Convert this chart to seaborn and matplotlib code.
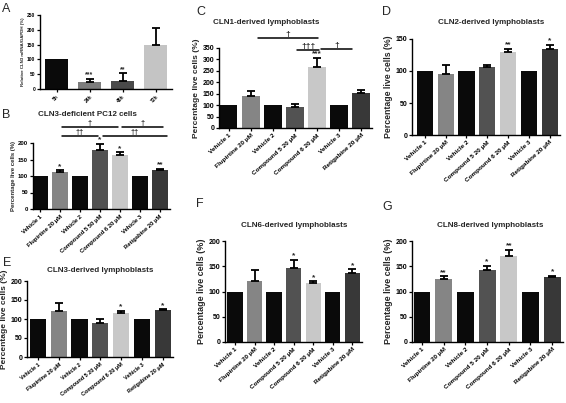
import matplotlib
matplotlib.use("Agg")
import matplotlib.pyplot as plt
import seaborn as sns
import pandas as pd
import numpy as np

sns.set_theme(style="ticks")
plt.rcParams['font.family'] = ['Liberation Sans', 'DejaVu Sans']

W, H = 566, 403

# ---------------- data ----------------
time_labels = ["5h", "24h", "48h", "72h"]
a_vals = [100, 25, 28, 148]
a_err = [0, 10, 25, 57]
a_sig = ["", "***", "**", ""]

cats = ["Vehicle 1", "Flupirtine 20 μM", "Vehicle 2", "Compound 5 20 μM",
        "Compound 6 20 μM", "Vehicle 3", "Retigabine 20 μM"]
cats_b = ["Vehicle 1", "Flupirtine 20 μM", "Vehicle 2", "Compound 5 50 μM",
          "Compound 6 20 μM", "Vehicle 3", "Retigabine 20 μM"]

b_vals = [100, 113, 100, 180, 163, 100, 118]
b_err = [0, 4, 0, 18, 9, 0, 4]
b_sig = ["", "*", "", "*", "*", "", "**"]

c_vals = [100, 140, 100, 93, 268, 100, 155]
c_err = [0, 23, 0, 12, 40, 0, 10]
c_sig = ["", "", "", "", "***", "", ""]

d_vals = [100, 95, 100, 107, 130, 100, 134]
d_err = [0, 15, 0, 3, 5, 0, 7]
d_sig = ["", "", "", "", "**", "", "*"]

e_vals = [100, 122, 100, 90, 115, 100, 123]
e_err = [0, 21, 0, 9, 6, 0, 3]
e_sig = ["", "", "", "", "*", "", "*"]

f_vals = [100, 120, 100, 147, 117, 100, 137]
f_err = [0, 23, 0, 16, 3, 0, 7]
f_sig = ["", "", "", "*", "*", "", "*"]

g_vals = [100, 125, 100, 142, 171, 100, 128]
g_err = [0, 5, 0, 9, 12, 0, 3]
g_sig = ["", "**", "", "*", "**", "", "*"]

# significance brackets: (x_start, x_end, y, label)
b_brackets = [(1.1, 3.9, 248, "†"), (4.1, 6.15, 248, "†"),
              (1.1, 2.9, 221, "††"), (3.15, 6.35, 221, "††")]
c_brackets = [(1.3, 4.05, 394, "†"), (3.1, 4.1, 341, "†††"),
              (4.2, 5.6, 346, "†")]

a_colors = ["#0a0a0a", "#7d7d7d", "#4a4a4a", "#c4c4c4"]
bar_colors = ["#0a0a0a", "#858585", "#0a0a0a", "#525252", "#c8c8c8", "#0a0a0a", "#383838"]

fig = plt.figure(figsize=(W / 100, H / 100), dpi=100)


def add_axes(x0, x1, ytop, ybot):
    return fig.add_axes([x0 / W, 1 - ybot / H, (x1 - x0) / W, (ybot - ytop) / H])


def panel(ax, labels, vals, errs, sigs, colors, ylim, yticks, xlim,
          tick_fs=5, xlab_fs=4.6, ylab_fs=6, ylabel="Percentage live cells (%)",
          width=0.78, sig_fs=6, rot=42):
    df = pd.DataFrame({"cat": labels, "val": vals})
    sns.barplot(data=df, x="cat", y="val", hue="cat", palette=dict(zip(labels, colors)),
                legend=False, width=width, ax=ax, errorbar=None, saturation=1,
                linewidth=0)
    x = np.arange(len(labels))
    for i in range(len(labels)):
        if errs[i] > 0:
            ax.errorbar(i, vals[i], yerr=[[0], [errs[i]]], fmt='none', ecolor='black',
                        elinewidth=1.3, capsize=2.6, capthick=1.3, zorder=3)
        if sigs[i]:
            ax.text(i, vals[i] + errs[i] + ylim[1] * 0.005, sigs[i], ha='center',
                    va='bottom', fontsize=sig_fs, fontweight='bold', clip_on=False)
    ax.set_ylim(*ylim)
    ax.set_xlim(*xlim)
    ax.set_yticks(yticks)
    ax.set_yticklabels([str(t) for t in yticks], fontsize=tick_fs, fontweight='bold')
    ax.set_xticks(x)
    ax.set_xticklabels(labels, rotation=rot, ha='right', rotation_mode='anchor',
                       fontsize=xlab_fs, fontweight='bold')
    ax.set_xlabel("")
    ax.set_ylabel(ylabel, fontsize=ylab_fs, fontweight='bold', labelpad=1.5)
    for s in ["top", "right"]:
        ax.spines[s].set_visible(False)
    for s in ["left", "bottom"]:
        ax.spines[s].set_linewidth(1.0)
        ax.spines[s].set_color("black")
    ax.tick_params(axis='both', direction='out', length=2.5, width=0.9, pad=1,
                   colors='black')
    ax.set_facecolor("white")


def brackets(ax, specs, fs=6):
    for x0, x1, y, lab in specs:
        ax.plot([x0, x1], [y, y], color='black', lw=1.1, clip_on=False)
        ax.text((x0 + x1) / 2, y, lab, ha='center', va='bottom', fontsize=fs,
                fontweight='bold', clip_on=False)


def ftext(x, y, s, **kw):
    fig.text(x / W, 1 - y / H, s, **kw)


# Panel A
axA = add_axes(40, 172, 15, 89)
panel(axA, time_labels, a_vals, a_err, a_sig, a_colors, (0, 250),
      [0, 50, 100, 150, 200, 250], (-0.5, 3.5), tick_fs=3.5, xlab_fs=3.5,
      ylab_fs=3.2, ylabel="Relative CLN3 mRNA/GAPDH (%)", width=0.7, sig_fs=5, rot=45)

# Panel B
axB = add_axes(33, 170, 143, 209)
panel(axB, cats_b, b_vals, b_err, b_sig, bar_colors, (0, 200),
      [0, 50, 100, 150, 200], (-0.35, 6.5), tick_fs=4.3, xlab_fs=4.2, ylab_fs=4.3)
brackets(axB, b_brackets, fs=5.5)

# Panel C
axC = add_axes(219, 372, 48, 128)
panel(axC, cats, c_vals, c_err, c_sig, bar_colors, (0, 350),
      [0, 50, 100, 150, 200, 250, 300, 350], (-0.45, 6.5), tick_fs=5, ylab_fs=6)
brackets(axC, c_brackets, fs=6)

# Panel D
axD = add_axes(412, 560, 39, 135)
panel(axD, cats, d_vals, d_err, d_sig, bar_colors, (0, 150),
      [0, 50, 100, 150], (-0.62, 6.5), tick_fs=5, ylab_fs=6.3)

# Panel E
axE = add_axes(27, 173, 281, 357)
panel(axE, cats, e_vals, e_err, e_sig, bar_colors, (0, 200),
      [0, 50, 100, 150, 200], (-0.53, 6.5), tick_fs=5, xlab_fs=4.0, ylab_fs=6, rot=38)

# Panel F
axF = add_axes(225, 362, 241, 342)
panel(axF, cats, f_vals, f_err, f_sig, bar_colors, (0, 200),
      [0, 50, 100, 150, 200], (-0.51, 6.5), tick_fs=5, ylab_fs=6.5)

# Panel G
axG = add_axes(412, 563, 241, 342)
panel(axG, cats, g_vals, g_err, g_sig, bar_colors, (0, 200),
      [0, 50, 100, 150, 200], (-0.46, 6.5), tick_fs=5, ylab_fs=6.5)

# Titles
tkw = dict(ha='center', va='center', fontsize=5.8, fontweight='bold')
ftext(87, 115, "CLN3-deficient PC12 cells", **tkw)
ftext(266, 22, "CLN1-derived lymphoblasts", **tkw)
ftext(491, 23, "CLN2-derived lymphoblasts", **tkw)
ftext(100, 270, "CLN3-derived lymphoblasts", **tkw)
ftext(294, 225, "CLN6-derived lymphoblasts", **tkw)
ftext(490, 225, "CLN8-derived lymphoblasts", **tkw)

# Panel letters
lkw = dict(ha='left', va='center', fontsize=9)
ftext(2, 9, "A", **lkw)
ftext(2, 115, "B", **lkw)
ftext(196, 12, "C", **lkw)
ftext(382, 12, "D", **lkw)
ftext(3, 263, "E", **lkw)
ftext(196, 204, "F", **lkw)
ftext(382, 207, "G", **lkw)

fig.savefig("out.png", dpi=100, facecolor="white")
